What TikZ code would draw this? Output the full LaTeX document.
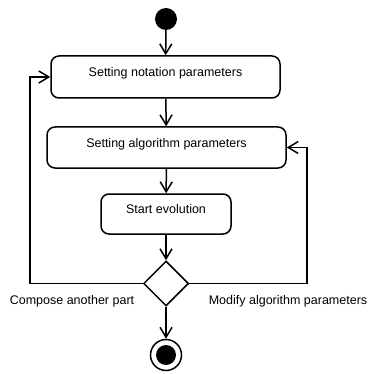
\documentclass[tikz,border=0pt]{standalone}
\usepackage{fontspec}
\setmainfont{Liberation Sans}
\usetikzlibrary{arrows.meta,shapes.geometric}

\tikzset{
  activity/.style={draw, line width=1.5pt, rounded corners=8pt, text height=9pt, text depth=10pt, font=\fontsize{12.5}{15}\selectfont},
  flow/.style={line width=1.5pt, -{Straight Barb[length=10pt,width=12pt]}},
  decision/.style={draw, diamond, aspect=1, line width=1.5pt, minimum width=45pt, minimum height=45pt, inner sep=0pt},
  guard/.style={font=\fontsize{12.5}{15}\selectfont},
}

\begin{document}
\begin{tikzpicture}[x=1pt,y=-1pt]
    \useasboundingbox (0,0) rectangle (369,374);

    %Initial state
    \node[circle, fill=black, minimum size=22pt, inner sep=0pt] (start) at (166,19) {};

    %Activities
    \node[activity, minimum width=229pt, minimum height=42pt] (notation) at (165.5,77) {Setting notation parameters};
    \node[activity, minimum width=239pt, minimum height=41pt] (algorithm) at (166.5,147.5) {Setting algorithm parameters};
    \node[activity, minimum width=130pt, minimum height=40pt] (evolution) at (166,214) {Start evolution};

    %Decision
    \node[decision] (choice) at (166,283.5) {};

    %Final state
    \node[circle, draw, line width=1.5pt, minimum size=31pt, inner sep=0pt] (stop) at (166,355) {};
    \node[circle, fill=black, minimum size=20pt, inner sep=0pt] (stopdot) at (stop) {};

    %Guards
    \node[guard] (compose) at (72,301) {Compose another part};
    \node[guard] (modify) at (288,301) {Modify algorithm parameters};

    \draw[flow] (start) -- (notation);
    \draw[flow] (notation) -- (algorithm);
    \draw[flow] (algorithm) -- (evolution);
    \draw[flow] (evolution) -- (choice);
    \draw[flow] (choice) -- (stop);

    %Loops back
    \coordinate (leftturn) at (30,283.5);
    \coordinate (rightturn) at (307,283.5);
    \draw[flow] (choice.west) -- (leftturn) |- (notation.west);
    \draw[flow] (choice.east) -- (rightturn) |- (algorithm.east);

\end{tikzpicture}
\end{document}
